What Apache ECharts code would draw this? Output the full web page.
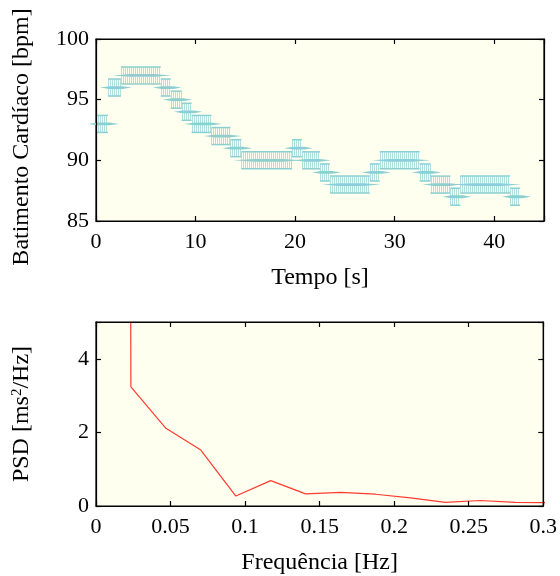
<!DOCTYPE html>
<html>
<head>
<meta charset="utf-8">
<script src="https://cdn.jsdelivr.net/npm/echarts@6/dist/echarts.min.js"></script>
<style>
html,body{margin:0;padding:0;background:#fff;}
#chart{width:560px;height:576px;}
</style>
</head>
<body>
<div id="chart"></div>
<script>
// ---- Data: heart rate step segments ----
const segStart = [0, 1.2, 2.5, 6.5, 7.5, 8.6, 9.6, 11.6, 13.5, 14.6, 19.7, 20.7, 22.5, 23.5, 27.5, 28.5, 32.5, 33.6, 35.6, 36.6, 41.6];
const segEnd   = [1.2, 2.5, 6.5, 7.5, 8.6, 9.6, 11.6, 13.5, 14.6, 19.7, 20.7, 22.5, 23.5, 27.5, 28.5, 32.5, 33.6, 35.6, 36.6, 41.6, 42.6];
const hrLevel  = [93, 96, 97, 96, 95, 94, 93, 92, 91, 90, 91, 90, 89, 88, 89, 90, 89, 88, 87, 88, 87];
const hrHalfRange = 0.7;

const timeTicks = [0, 10, 20, 30, 40];
const hrTicks = [85, 90, 95, 100];

// ---- Data: PSD ----
const freq = [0, 0.0234, 0.0469, 0.0703, 0.0938, 0.1172, 0.1406, 0.1641, 0.1875, 0.2109, 0.2344, 0.2578, 0.2813, 0.3047];
const psd  = [400, 3.24, 2.11, 1.52, 0.27, 0.69, 0.33, 0.37, 0.32, 0.22, 0.10, 0.15, 0.10, 0.09];
const freqTicks = [0, 0.05, 0.1, 0.15, 0.2, 0.25, 0.3];
const psdTicks = [0, 2, 4];

const FONT = 'Liberation Serif';
const FS = 22;
const NFS = 24;
const cyan = '#8ccfd2';
const cyanLight = '#b2e0df';

const chart = echarts.init(document.getElementById('chart'), null, {renderer: 'canvas'});

function renderHR(params, api) {
  const t0 = api.value(0), t1 = api.value(1), v = api.value(2);
  const children = [];
  const yTop = api.coord([t0, v + hrHalfRange])[1];
  const yBot = api.coord([t0, v - hrHalfRange])[1];
  const yMid = api.coord([t0, v])[1];
  const x0 = api.coord([t0, v])[0];
  const x1 = api.coord([t1, v])[0];
  for (let x = x0; x <= x1 + 0.01; x += 2) {
    const xr = Math.round(x) + 0.5;
    children.push({type: 'line', shape: {x1: xr, y1: yTop, x2: xr, y2: yBot},
      style: {stroke: cyanLight, lineWidth: 1}});
  }
  children.push({type: 'line', shape: {x1: x0, y1: yTop, x2: x1, y2: yTop}, style: {stroke: cyan, lineWidth: 1.5}});
  children.push({type: 'line', shape: {x1: x0, y1: yBot, x2: x1, y2: yBot}, style: {stroke: cyan, lineWidth: 1.5}});
  const sx0 = api.coord([t0 - 0.8, v])[0];
  const sx1 = api.coord([t1 + 1.1, v])[0];
  const L = sx1 - sx0;
  const h = 1.4;
  children.push({type: 'polygon', shape: {points: [
    [sx0, yMid], [sx0 + L * 0.3, yMid - h], [sx0 + L * 0.7, yMid - h],
    [sx1, yMid], [sx0 + L * 0.7, yMid + h], [sx0 + L * 0.3, yMid + h]
  ]}, style: {fill: cyan}});
  return {type: 'group', children: children};
}

function axisLine() { return {show: true, onZero: false, lineStyle: {color: '#000', width: 1.2}}; }
function axisTick() { return {show: true, inside: true, length: 5, lineStyle: {color: '#000', width: 1.2}}; }
const labelStyle = {color: '#000', fontFamily: FONT, fontSize: FS};
const nameStyle = {color: '#000', fontFamily: FONT, fontSize: NFS,
  rich: {sup: {fontFamily: FONT, fontSize: 15, padding: [0, 0, 9, 0], color: '#000'}}};
const emptyFmt = () => '';
const AZ = 10;

const option = {
  animation: false,
  backgroundColor: '#fff',
  grid: [
    {left: 96, top: 39, width: 448, height: 182, show: true, backgroundColor: '#fffff0', borderColor: '#000', borderWidth: 1.2},
    {left: 96, top: 322, width: 448, height: 184, show: true, backgroundColor: '#fffff0', borderColor: '#000', borderWidth: 1.2}
  ],
  xAxis: [
    {gridIndex: 0, z: AZ, type: 'value', position: 'bottom', min: 0, max: 45, interval: 10,
     axisLine: axisLine(), axisTick: axisTick(), splitLine: {show: false},
     axisLabel: Object.assign({margin: 10, formatter: v => timeTicks.includes(v) ? String(v) : ''}, labelStyle),
     name: 'Tempo [s]', nameLocation: 'middle', nameGap: 45, nameTextStyle: nameStyle},
    {gridIndex: 0, z: AZ, type: 'value', position: 'top', min: 0, max: 45, interval: 10,
     axisLine: axisLine(), axisTick: axisTick(), splitLine: {show: false},
     axisLabel: {show: true, formatter: emptyFmt}},
    {gridIndex: 1, z: AZ, type: 'value', position: 'bottom', min: 0, max: 0.3, interval: 0.05,
     axisLine: axisLine(), axisTick: axisTick(), splitLine: {show: false},
     axisLabel: Object.assign({margin: 10, showMaxLabel: true, formatter: v => {
       const f = freqTicks.find(t => Math.abs(t - v) < 1e-9);
       return f === undefined ? '' : String(f);
     }}, labelStyle),
     name: 'Frequência [Hz]', nameLocation: 'middle', nameGap: 45, nameTextStyle: nameStyle},
    {gridIndex: 1, z: AZ, type: 'value', position: 'top', min: 0, max: 0.3, interval: 0.05,
     axisLine: axisLine(), axisTick: axisTick(), splitLine: {show: false},
     axisLabel: {show: true, formatter: emptyFmt}}
  ],
  yAxis: [
    {gridIndex: 0, z: AZ, type: 'value', position: 'left', min: 85, max: 100, interval: 5,
     axisLine: axisLine(), axisTick: axisTick(), splitLine: {show: false},
     axisLabel: Object.assign({margin: 7, formatter: v => hrTicks.includes(v) ? String(v) : ''}, labelStyle),
     name: 'Batimento Cardíaco [bpm]', nameLocation: 'middle', nameGap: 62,
     nameTextStyle: Object.assign({}, nameStyle, {padding: [0, 14, 0, 0]})},
    {gridIndex: 0, z: AZ, type: 'value', position: 'right', min: 85, max: 100, interval: 5,
     axisLine: axisLine(), axisTick: axisTick(), splitLine: {show: false},
     axisLabel: {show: true, formatter: emptyFmt}},
    {gridIndex: 1, z: AZ, type: 'value', position: 'left', min: 0, max: 5, interval: 2,
     axisLine: axisLine(), axisTick: axisTick(), splitLine: {show: false},
     axisLabel: Object.assign({margin: 7, formatter: v => psdTicks.includes(v) ? String(v) : ''}, labelStyle),
     name: 'PSD [ms{sup|2}/Hz]', nameLocation: 'middle', nameGap: 62, nameTextStyle: nameStyle},
    {gridIndex: 1, z: AZ, type: 'value', position: 'right', min: 0, max: 5, interval: 2,
     axisLine: axisLine(), axisTick: axisTick(), splitLine: {show: false},
     axisLabel: {show: true, formatter: emptyFmt}}
  ],
  series: [
    {type: 'custom', xAxisIndex: 0, yAxisIndex: 0, renderItem: renderHR,
     encode: {x: [0, 1], y: 2},
     data: segStart.map((s, i) => [s, segEnd[i], hrLevel[i]])},
    {type: 'line', xAxisIndex: 1, yAxisIndex: 1, data: []},
    {type: 'line', xAxisIndex: 2, yAxisIndex: 2, showSymbol: false, clip: true,
     lineStyle: {color: '#ff3b30', width: 1.2},
     data: freq.map((f, i) => [f, psd[i]])},
    {type: 'line', xAxisIndex: 3, yAxisIndex: 3, data: []}
  ]
};
chart.setOption(option);
</script>
</body>
</html>
